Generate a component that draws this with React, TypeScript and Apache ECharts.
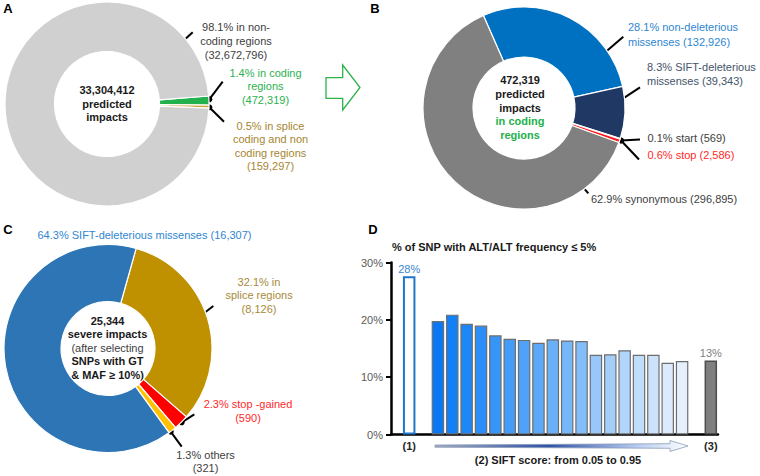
import React, { useEffect, useRef } from "react";
import * as echarts from "echarts";

// ---------- Panel A: all predicted impacts ----------
const aNames = ["coding regions", "splice regions", "non-coding regions"];
const aCounts = [472319, 159297, 32672796];
const aPcts = [1.4, 0.5, 98.1];
const aTotal = "33,304,412";

// ---------- Panel B: impacts in coding regions ----------
const bNames = ["non-deleterious missenses", "SIFT-deleterious missenses", "start", "stop", "synonymous"];
const bCounts = [132926, 39343, 569, 2586, 296895];
const bPcts = [28.1, 8.3, 0.1, 0.6, 62.9];
const bTotal = "472,319";

// ---------- Panel C: severe impacts ----------
const cNames = ["splice regions", "stop -gained", "others", "SIFT-deleterious missenses"];
const cCounts = [8126, 590, 321, 16307];
const cPcts = [32.1, 2.3, 1.3, 64.3];
const cTotal = "25,344";

// ---------- Panel D: % of SNP with ALT/ALT frequency <= 5% ----------
const dGroup1Label = "(1)";
const dGroup3Label = "(3)";
const dGroup1Value = 27.6;
const dSiftBins = [
  "0.05", "0.10", "0.15", "0.20", "0.25", "0.30", "0.35", "0.40", "0.45",
  "0.50", "0.55", "0.60", "0.65", "0.70", "0.75", "0.80", "0.85", "0.90",
];
const dSiftValues = [19.8, 20.9, 19.3, 19.0, 17.3, 16.7, 16.5, 16.0, 16.6, 16.4, 16.3, 13.9, 14.0, 14.7, 13.9, 13.9, 12.5, 12.8];
const dGroup3Value = 12.9;
const dYTicks = [0, 10, 20, 30];

// ---------- styles ----------
const FONT = '"Liberation Sans", Arial, Helvetica, sans-serif';
const aColors = ["#22b14c", "#c9a33a", "#d0d0d0"];
const bColors = ["#0070c0", "#1f3864", "#ffffff", "#ff1a1a", "#808080"];
const cColors = ["#bf9000", "#ff0000", "#ffc000", "#2e75b6"];
const siftColors = [
  "#0a78f5", "#1280f7", "#1e87f8", "#2a8df8", "#3795f8", "#439cf8", "#4fa2f8", "#5ba9f8", "#69b0f8",
  "#76b7f9", "#84befa", "#98c8fa", "#a3cefa", "#b2d5fb", "#c0ddfb", "#cde3fc", "#dbeafd", "#e6f0fd",
];

const fmt = (n: number) => n.toLocaleString("en-US");

type TOpts = { size?: number; bold?: boolean; align?: string };
function txt(x: number, y: number, text: string, color: string, o: TOpts = {}) {
  return {
    type: "text",
    x,
    y,
    silent: true,
    style: {
      text,
      fill: color,
      fontSize: o.size ?? 11,
      fontWeight: o.bold ? "bold" : "normal",
      fontFamily: FONT,
      align: o.align ?? "center",
      verticalAlign: "middle",
    },
  };
}
function lines(x: number, y0: number, lh: number, rows: string[], color: string, o: TOpts = {}) {
  return rows.map((r, i) => txt(x, y0 + i * lh, r, color, o));
}
function leader(x1: number, y1: number, x2: number, y2: number) {
  return [
    { type: "line", silent: true, shape: { x1, y1, x2, y2 }, style: { stroke: "#000", lineWidth: 2 } },
    { type: "circle", silent: true, shape: { cx: x1, cy: y1, r: 3 }, style: { fill: "#000" } },
  ];
}

function pie(center: number[], radius: number[], startAngle: number, names: string[], counts: number[], colors: string[]) {
  return {
    type: "pie",
    center,
    radius,
    startAngle,
    clockwise: true,
    silent: true,
    avoidLabelOverlap: false,
    label: { show: false },
    labelLine: { show: false },
    itemStyle: { borderColor: "#ffffff", borderWidth: 1.2 },
    data: names.map((n, i) => ({ name: n, value: counts[i], itemStyle: { color: colors[i] } })),
  };
}

export default function App() {
  const ref = useRef<HTMLDivElement>(null);
  useEffect(() => {
    if (!ref.current) return;
    const chart = echarts.init(ref.current, null, { renderer: "svg" });

    const categories = [dGroup1Label, "gap-a", ...dSiftBins, "gap-b", dGroup3Label];
    const barData: any[] = [
      {
        value: dGroup1Value,
        itemStyle: { color: "#ffffff", borderColor: "#1f77c9", borderWidth: 2 },
        label: { show: true, color: "#3a87d4" },
      },
      "-",
      ...dSiftValues.map((v, i) => ({
        value: v,
        itemStyle: { color: siftColors[i], borderColor: "#6e6e6e", borderWidth: 1.2 },
      })),
      "-",
      {
        value: dGroup3Value,
        itemStyle: { color: "#7f7f7f", borderColor: "#4d4d4d", borderWidth: 1.5 },
        label: { show: true, color: "#808080" },
      },
    ];

    const graphic: any[] = [
      // panel letters
      txt(8, 8.5, "A", "#000", { size: 13, bold: true }),
      txt(375, 8.5, "B", "#000", { size: 13, bold: true }),
      txt(8, 229, "C", "#000", { size: 13, bold: true }),
      txt(373, 229.5, "D", "#000", { size: 13, bold: true }),

      // Panel A centre
      ...lines(107, 90, 13.7, [aTotal, "predicted", "impacts"], "#1a1a1a", { bold: true }),
      // Panel A labels
      ...lines(236, 27.3, 14, [`${aPcts[2]}% in non-`, "coding regions", `(${fmt(aCounts[2])})`], "#404040"),
      ...lines(265.5, 72.7, 13.4, [`${aPcts[0]}% in coding`, "regions", `(${fmt(aCounts[0])})`], "#2bb14f"),
      ...lines(270.5, 126, 13.3, [`${aPcts[1]}% in splice`, "coding and non", "coding regions", `(${fmt(aCounts[1])})`], "#a6862f"),
      ...leader(170.7, 52.3, 192.7, 32.3),
      ...leader(209.3, 99.3, 222.7, 81.7),
      ...leader(209.3, 107.3, 224, 121.7),

      // green arrow
      {
        type: "polygon",
        silent: true,
        shape: { points: [[326, 77.7], [342.7, 77.7], [342.7, 65], [360, 87.5], [342.7, 110], [342.7, 98.3], [326, 98.3]] },
        style: { fill: "#ffffff", stroke: "#2db34a", lineWidth: 1.3 },
      },

      // Panel B centre
      ...lines(520, 80, 13.8, [bTotal, "predicted", "impacts"], "#1a1a1a", { bold: true }),
      ...lines(520, 121.4, 13.8, ["in coding", "regions"], "#22b14c", { bold: true }),
      // Panel B labels
      ...lines(628, 27.3, 15, [`${bPcts[0]}% non-deleterious`, `missenses (${fmt(bCounts[0])})`], "#2e86d1", { align: "left" }),
      ...lines(647, 66.7, 14.5, [`${bPcts[1]}% SIFT-deleterious`, `missenses (${fmt(bCounts[1])})`], "#44546a", { align: "left" }),
      txt(647.5, 137.7, `${bPcts[2]}% start (${fmt(bCounts[2])})`, "#404040", { align: "left" }),
      txt(647.5, 155, `${bPcts[3]}% stop (${fmt(bCounts[3])})`, "#ff2a2a", { align: "left" }),
      txt(591, 199.3, `${bPcts[4]}% synonymous (${fmt(bCounts[4])})`, "#404040", { align: "left" }),
      ...leader(600, 56.7, 623.3, 36.7),
      ...leader(618.3, 101.7, 640, 87.3),
      ...leader(621, 140.5, 640, 139.5),
      ...leader(621, 140.5, 639, 159.5),
      ...leader(570, 172, 588.3, 193.3),

      // Panel C centre
      ...lines(107.5, 320.5, 13.5, [cTotal, "severe impacts"], "#1a1a1a", { bold: true }),
      txt(107.5, 347.5, "(after selecting", "#404040"),
      ...lines(107.5, 361, 13.5, ["SNPs with GT", "& MAF \u2265 10%)"], "#1a1a1a", { bold: true }),
      // Panel C labels
      txt(37.5, 235, `${cPcts[3]}% SIFT-deleterious missenses (${fmt(cCounts[3])})`, "#2e86d1", { align: "left" }),
      ...lines(259, 281.7, 13.7, [`${cPcts[0]}% in`, "splice regions", `(${fmt(cCounts[0])})`], "#a68a3a"),
      ...lines(248, 404, 14.3, [`${cPcts[1]}% stop -gained`, `(${fmt(cCounts[1])})`], "#ff2a2a"),
      ...lines(205.5, 455, 13.3, [`${cPcts[2]}% others`, `(${fmt(cCounts[2])})`], "#404040"),
      ...leader(106.7, 267.3, 120, 246.7),
      ...leader(201.7, 315, 213.3, 306),
      ...leader(181.7, 422.3, 194.3, 414.3),
      ...leader(170.7, 431.7, 181.7, 446.7),

      // Panel D texts
      txt(392, 246.5, "% of SNP with ALT/ALT frequency \u2264 5%", "#1a1a1a", { bold: true, align: "left" }),
      txt(558, 460, "(2) SIFT score: from 0.05 to 0.95", "#1a1a1a", { bold: true }),
      {
        type: "polygon",
        silent: true,
        shape: { points: [[435, 445], [670, 443.7], [670, 440.5], [688, 446], [670, 451.5], [670, 448.3], [435, 447.2]] },
        style: {
          fill: new echarts.graphic.LinearGradient(0, 0, 1, 0, [
            { offset: 0, color: "#a3abc2" },
            { offset: 0.45, color: "#2f52a8" },
            { offset: 0.8, color: "#b8cdf0" },
            { offset: 1, color: "#ffffff" },
          ]),
          stroke: "#8a9ab8",
          lineWidth: 0.8,
        },
      },
    ];

    chart.setOption({
      animation: false,
      backgroundColor: "#ffffff",
      grid: [
        { left: 391, right: 42, top: 262.5, bottom: 41.5 },
        { left: 402, right: 42, top: 262.5, bottom: 41.5 },
      ],
      xAxis: [
        {
          type: "category",
          gridIndex: 0,
          data: ["baseline"],
          axisLine: { show: true, lineStyle: { color: "#000", width: 2.5 } },
          axisTick: { show: false },
          axisLabel: { show: false },
        },
        {
          type: "category",
          gridIndex: 1,
          data: categories,
          axisLine: { show: false },
          axisTick: { show: false },
          axisLabel: {
            interval: 0,
            margin: 6,
            fontSize: 11,
            fontWeight: "bold",
            fontFamily: FONT,
            color: "#262626",
            formatter: (v: string) => (v === dGroup1Label || v === dGroup3Label ? v : ""),
          },
        },
      ],
      yAxis: [
        {
          type: "value",
          gridIndex: 0,
          min: dYTicks[0],
          max: dYTicks[dYTicks.length - 1],
          interval: 10,
          axisLine: { show: true, lineStyle: { color: "#000", width: 2.5 } },
          axisTick: { show: true, length: 5, lineStyle: { color: "#000", width: 2 } },
          axisLabel: { formatter: "{value}%", color: "#595959", fontSize: 11, fontFamily: FONT, margin: 8 },
          splitLine: { show: false },
        },
        {
          type: "value",
          gridIndex: 1,
          min: dYTicks[0],
          max: dYTicks[dYTicks.length - 1],
          show: false,
          splitLine: { show: false },
        },
      ],
      series: [
        pie([107, 104], [52.5, 102], 4.5, aNames, aCounts, aColors),
        pie([524, 108], [51, 101], 113.7, bNames, bCounts, bColors),
        pie([108, 348.5], [47, 104], 74.3, cNames, cCounts, cColors),
        {
          type: "bar",
          xAxisIndex: 1,
          yAxisIndex: 1,
          barWidth: 12.5,
          silent: true,
          data: barData,
          label: {
            show: false,
            position: "top",
            distance: 2,
            fontSize: 11,
            fontFamily: FONT,
            formatter: (p: any) => `${Math.round(p.value)}%`,
          },
        },
      ],
      graphic,
    });

    return () => chart.dispose();
  }, []);

  return (
    <div
      ref={ref}
      style={{ position: "absolute", left: 0, top: 0, width: 760, height: 476, background: "#fff" }}
    />
  );
}
